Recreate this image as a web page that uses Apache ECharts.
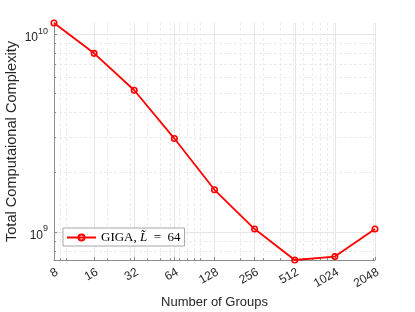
<!DOCTYPE html>
<html>
<head>
<meta charset="utf-8">
<script src="https://cdn.jsdelivr.net/npm/echarts@6/dist/echarts.min.js"></script>
<style>
html,body{margin:0;padding:0;background:#fff;}
#chart{width:415px;height:312px;}
</style>
</head>
<body>
<div id="chart"></div>
<script>
// ---- data ----
const groups = [8, 16, 32, 64, 128, 256, 512, 1024, 2048];
const complexity = [1.137e10, 7.99e9, 5.2e9, 2.965e9, 1.634e9, 1.035e9, 7.22e8, 7.51e8, 1.035e9];
const xMinorGrid = [9, 10, 20, 30, 40, 50, 60, 70, 80, 90, 100, 200, 300, 400, 500, 600, 700, 800, 900, 1000, 2000];
const yMinorGrid = [8e8, 9e8, 2e9, 3e9, 4e9, 5e9, 6e9, 7e9, 8e9, 9e9];
const seriesName = 'GIGA, L̃ = 64';
const xTitle = 'Number of Groups';
const yTitle = 'Total Computaional Complexity';

const yMin = Math.min(...complexity);
const yMax = Math.max(...complexity);
const xMin = groups[0];
const xMax = groups[groups.length - 1];

const axisColor = '#8c8c8c';
const textColor = '#262626';
const majorGrid = '#e6e6e6';
const minorGrid = '#ececec';

const chart = echarts.init(document.getElementById('chart'), null, {renderer: 'canvas'});

function snap(v) { return Math.round(v) + 0.5; }

chart.setOption({
  animation: false,
  backgroundColor: '#fff',
  grid: {left: 54, right: 40, top: 23, bottom: 52, containLabel: false, outerBoundsMode: 'none'},
  legend: {
    data: [seriesName],
    left: 63, top: 228,
    orient: 'horizontal',
    padding: [3, 4, 2, 3],
    itemWidth: 29, itemHeight: 7.5,
    backgroundColor: '#fff',
    borderColor: '#a6a6a6', borderWidth: 1,
    formatter: function () {
      return '{n|GIGA,\u00a0}{i|L\u0303}{n|\u2002=\u200264}';
    },
    textStyle: {
      color: '#000',
      rich: {
        n: {fontFamily: 'Liberation Serif', fontSize: 13, color: '#000'},
        i: {fontFamily: 'Liberation Serif', fontStyle: 'italic', fontSize: 13, color: '#000'}
      }
    }
  },
  xAxis: {
    type: 'log', logBase: 2, min: xMin, max: xMax,
    name: xTitle, nameLocation: 'middle', nameGap: 33,
    nameTextStyle: {fontFamily: 'Liberation Sans', fontSize: 13, color: textColor},
    axisLine: {show: true, lineStyle: {color: axisColor, width: 1}},
    axisTick: {show: true, inside: true, length: 3, lineStyle: {color: axisColor}},
    axisLabel: {rotate: 30, margin: 6, align: 'right', verticalAlign: 'top',
      fontFamily: 'Liberation Sans', fontSize: 12, color: textColor,
      formatter: function (v) { return String(Math.round(v)); }},
    splitLine: {show: true, showMinLine: false, lineStyle: {color: majorGrid, width: 1}},
    minorTick: {show: false}, minorSplitLine: {show: false}
  },
  yAxis: {
    type: 'log', logBase: 10, min: yMin, max: yMax,
    name: yTitle, nameLocation: 'middle', nameGap: 35, nameMoveOverlap: false,
    nameTextStyle: {fontFamily: 'Liberation Sans', fontSize: 14.6, color: textColor},
    axisLine: {show: true, lineStyle: {color: axisColor, width: 1}},
    axisTick: {show: true, inside: true, length: 3, lineStyle: {color: axisColor}},
    axisLabel: {
      margin: 6, showMinLabel: false, showMaxLabel: false,
      formatter: function (v) {
        const e = Math.round(Math.log10(v));
        return '{b|10}{s|' + e + '}';
      },
      rich: {
        b: {fontFamily: 'Liberation Sans', fontSize: 12, color: textColor, padding: [7, 0, 0, 0]},
        s: {fontFamily: 'Liberation Sans', fontSize: 9, color: textColor, padding: [0, 0, 6, 0]}
      }
    },
    splitLine: {show: true, showMinLine: false, showMaxLine: false, lineStyle: {color: majorGrid, width: 1}},
    minorTick: {show: false}, minorSplitLine: {show: false}
  },
  series: [
    {
      type: 'custom', name: 'xminor', z: 1, silent: true,
      data: xMinorGrid.map(function (v) { return [v, yMin]; }),
      renderItem: function (params, api) {
        const cs = params.coordSys;
        const px = snap(api.coord([api.value(0), api.value(1)])[0] - 0.5);
        const bottom = cs.y + cs.height;
        return {type: 'group', children: [
          {type: 'line', shape: {x1: px, y1: cs.y, x2: px, y2: bottom},
            style: {stroke: minorGrid, lineWidth: 1, lineDash: [3, 2]}},
          {type: 'line', shape: {x1: px, y1: bottom, x2: px, y2: bottom - 2},
            style: {stroke: axisColor, lineWidth: 1}}
        ]};
      }
    },
    {
      type: 'custom', name: 'yminor', z: 1, silent: true,
      data: yMinorGrid.map(function (v) { return [xMin, v]; }),
      renderItem: function (params, api) {
        const cs = params.coordSys;
        const py = snap(api.coord([api.value(0), api.value(1)])[1] - 0.5);
        return {type: 'group', children: [
          {type: 'line', shape: {x1: cs.x, y1: py, x2: cs.x + cs.width, y2: py},
            style: {stroke: minorGrid, lineWidth: 1, lineDash: [3, 2]}},
          {type: 'line', shape: {x1: cs.x, y1: py, x2: cs.x + 2, y2: py},
            style: {stroke: axisColor, lineWidth: 1}}
        ]};
      }
    },
    {
      type: 'line', name: seriesName, z: 3,
      data: groups.map(function (g, i) { return [g, complexity[i]]; }),
      symbol: 'circle', symbolSize: 5.5, showAllSymbol: true,
      lineStyle: {color: '#ff0000', width: 1.8},
      itemStyle: {color: 'rgba(255,255,255,0)', borderColor: '#ff0000', borderWidth: 1.6},
      clip: false
    }
  ]
});
</script>
</body>
</html>
